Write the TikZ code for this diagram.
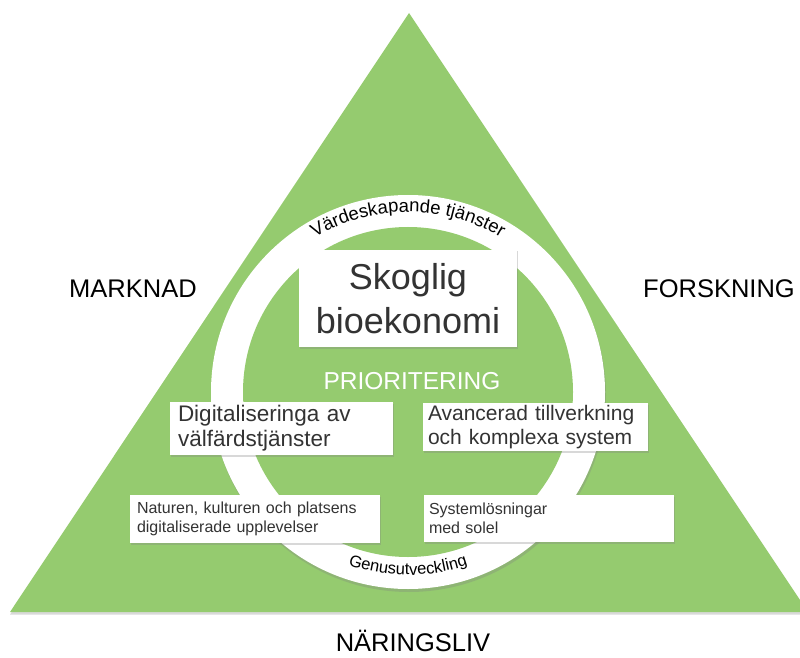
\documentclass[tikz,border=0pt]{standalone}
\usepackage{fontspec}
\setmainfont{Liberation Sans}
\usetikzlibrary{shadows,decorations.text}
\definecolor{tgreen}{RGB}{149,203,111}
\definecolor{boxtext}{RGB}{51,51,51}
\begin{document}
\begin{tikzpicture}[x=1pt,y=1pt,
  box/.style={fill=white, inner sep=0pt, text=boxtext,
    drop shadow={shadow xshift=1pt, shadow yshift=-1.5pt, opacity=0.3}},
  lbl/.style={font=\fontsize{25.5}{25.5}\selectfont, text=black, inner sep=0pt}
]
\useasboundingbox (0,0) rectangle (800,657);
\begin{scope}
  \clip (0,0) rectangle (800,657);
  \fill[tgreen, drop shadow={shadow xshift=0pt, shadow yshift=-2.5pt, opacity=0.3}]
    (10,45) -- (409,644) -- (808,45) -- cycle;
\end{scope}
% ring
\fill[white, drop shadow={shadow xshift=1pt, shadow yshift=-3pt, opacity=0.3}] (408,265) circle (197);
\fill[tgreen] (408,265) circle (165);
% ring texts
\path[decorate, decoration={text along path, text align=center,
  text={|\fontsize{18.5}{18.5}\selectfont|Värdeskapande tjänster}}]
  (408,265) ++(150:180) arc (150:30:180);
\path[decorate, decoration={text along path, text align=center,
  text={|\fontsize{16.5}{16.5}\selectfont|Genusutveckling}}]
  (408,265) ++(215:183) arc (215:325:183);
% boxes
\node[box, minimum width=218pt, minimum height=97pt, align=center,
  font=\fontsize{36}{44}\selectfont] (skog) at (408,358.5) {Skoglig\\bioekonomi};
\node[font=\fontsize{24.5}{24.5}\selectfont, text=white, inner sep=0pt] (prio) at (412,276) {PRIORITERING};
\node[box, minimum height=53pt, inner xsep=8pt, text width=207pt, align=left,
  font=\fontsize{22.5}{25}\selectfont] (digi) at (281.5,228.5) {Digitaliseringa av\\välfärdstjänster};
\node[box, minimum height=48pt, inner xsep=5pt, text width=215pt, align=left,
  font=\fontsize{21}{24}\selectfont] (avan) at (535.5,230) {Avancerad tillverkning\\och komplexa system};
\node[box, minimum height=48pt, inner xsep=7pt, text width=236pt, align=left,
  font=\fontsize{16}{19}\selectfont] (natu) at (255,138) {Naturen, kulturen och platsens\\digitaliserade upplevelser};
\node[box, minimum height=47pt, inner xsep=5pt, text width=240pt, align=left,
  font=\fontsize{16}{19}\selectfont] (syst) at (549,138.5) {Systemlösningar\\med solel};
% labels
\node[lbl] (mark) at (133,368) {MARKNAD};
\node[lbl] (fors) at (719,368) {FORSKNING};
\node[lbl] (nar) at (413,16) {NÄRINGSLIV};
\end{tikzpicture}
\end{document}
